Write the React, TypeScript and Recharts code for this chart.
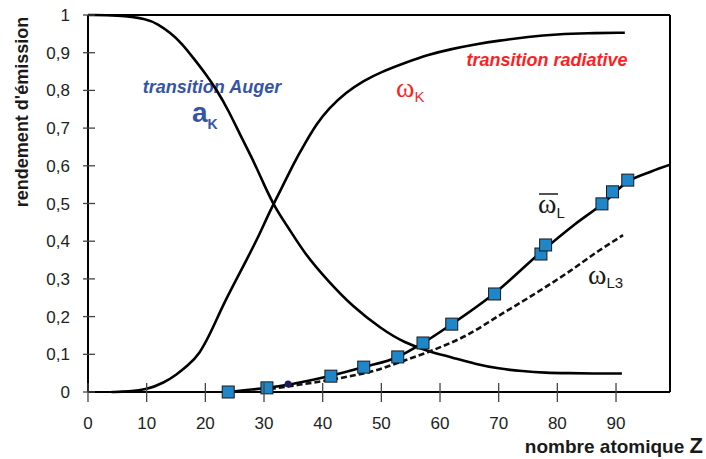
import React from 'react'
import { ComposedChart, Line, Scatter, XAxis, YAxis, ReferenceLine } from 'recharts'

// rendement Auger a_K
const AUGER_Z = [0, 5, 10, 12, 14, 16, 18, 20, 22, 24, 26, 28, 30, 32, 34, 37, 41, 45, 50, 54, 58, 62, 66, 70, 74, 78, 82, 86, 91]
const AUGER_V = [1, 1, 0.99, 0.975, 0.953, 0.925, 0.885, 0.845, 0.8, 0.745, 0.68, 0.62, 0.55, 0.485, 0.44, 0.365, 0.293, 0.228, 0.167, 0.13, 0.108, 0.092, 0.074, 0.062, 0.055, 0.051, 0.05, 0.049, 0.049]

// rendement de fluorescence omega_K
const OMEGA_K_Z = [4, 7, 10, 13, 15, 17, 19, 21, 23, 25, 27, 29, 31, 33, 35, 37, 39, 41, 44, 47, 50, 54, 58, 62, 66, 70, 75, 80, 85, 91.5]
const OMEGA_K_V = [0, 0.001, 0.006, 0.025, 0.045, 0.07, 0.1, 0.16, 0.23, 0.29, 0.35, 0.41, 0.48, 0.54, 0.605, 0.66, 0.712, 0.752, 0.795, 0.826, 0.849, 0.873, 0.895, 0.91, 0.922, 0.932, 0.942, 0.949, 0.952, 0.953]

// omega_L moyen (courbe)
const OMEGA_L_Z = [23.9, 27, 30.5, 35, 41.4, 47, 52.8, 57.1, 62, 69.3, 77.5, 83, 87.6, 92, 96, 99.2]
const OMEGA_L_V = [0, 0.005, 0.011, 0.022, 0.043, 0.066, 0.093, 0.13, 0.18, 0.262, 0.375, 0.445, 0.498, 0.558, 0.585, 0.603]

// omega_L mesures (carres)
const MES_Z = [23.9, 30.5, 41.4, 47.0, 52.8, 57.1, 62.0, 69.3, 77.2, 78.0, 87.6, 89.4, 92.0]
const MES_V = [0, 0.011, 0.042, 0.066, 0.093, 0.13, 0.18, 0.26, 0.366, 0.39, 0.499, 0.531, 0.562]

// omega_L3 (pointilles)
const OMEGA_L3_Z = [31, 35, 41.2, 45, 49, 53.1, 58.8, 64.6, 70.2, 75.8, 81.6, 87.2, 91.2]
const OMEGA_L3_V = [0.008, 0.017, 0.032, 0.043, 0.057, 0.079, 0.111, 0.151, 0.204, 0.257, 0.315, 0.376, 0.416]

const DOT_Z = [34.1]
const DOT_V = [0.021]

const X_TICKS = [0, 10, 20, 30, 40, 50, 60, 70, 80, 90]
const Y_TICKS = [0, 0.1, 0.2, 0.3, 0.4, 0.5, 0.6, 0.7, 0.8, 0.9, 1]

const zip = (zs: number[], vs: number[]) => zs.map((z, i) => ({ z, v: vs[i] }))

const FONT = '"Liberation Sans", Arial, sans-serif'
const SERIF = '"Liberation Serif", "Times New Roman", serif'
const TICK_SIZE = 10
const TICK_MARGIN = 2

function XTick({ x, y, payload }: any) {
  const ay = y - TICK_SIZE - TICK_MARGIN
  return (
    <g>
      <line x1={x} x2={x} y1={ay - 9} y2={ay + 10} stroke="#444" strokeWidth={1.3} />
      <text x={x} y={ay + 37} textAnchor="middle" fontSize={17} fill="#222" fontFamily={FONT}>
        {payload.value}
      </text>
    </g>
  )
}

function YTick({ x, y, payload }: any) {
  const ax = x + TICK_SIZE + TICK_MARGIN
  const label = payload.value === 0 || payload.value === 1 ? String(payload.value) : payload.value.toFixed(1).replace('.', ',')
  return (
    <g>
      <line x1={ax - 5} x2={ax + 7} y1={y} y2={y} stroke="#444" strokeWidth={1.3} />
      <text x={ax - 18} y={y + 6} textAnchor="end" fontSize={17} fill="#222" fontFamily={FONT}>
        {label}
      </text>
    </g>
  )
}

const Square = (props: any) => {
  const { cx, cy } = props
  return <rect x={cx - 6} y={cy - 6} width={12} height={12} fill="#1f86c9" stroke="#1a1a1a" strokeWidth={1} />
}

const Dot = (props: any) => <circle cx={props.cx} cy={props.cy} r={3.5} fill="#1c1c5e" />

export default function App() {
  return (
    <div style={{ position: 'absolute', left: 0, top: 0, background: '#fff' }}>
      <ComposedChart width={706} height={459} margin={{ top: 15, right: 36, left: 28, bottom: 37 }}>
        <XAxis
          type="number"
          dataKey="z"
          domain={[0, 99.2]}
          ticks={X_TICKS}
          allowDataOverflow
          height={30}
          tickSize={TICK_SIZE}
          tickMargin={TICK_MARGIN}
          tickLine={false}
          tick={<XTick />}
          axisLine={{ stroke: '#000', strokeWidth: 2 }}
        />
        <YAxis
          type="number"
          domain={[0, 1]}
          ticks={Y_TICKS}
          width={60}
          tickSize={TICK_SIZE}
          tickMargin={TICK_MARGIN}
          tickLine={false}
          tick={<YTick />}
          axisLine={{ stroke: '#000', strokeWidth: 2 }}
        />
        <ReferenceLine y={1} stroke="#000" strokeWidth={2} />
        <ReferenceLine x={99.2} stroke="#000" strokeWidth={2} />
        <Line data={zip(AUGER_Z, AUGER_V)} dataKey="v" type="basis" stroke="#000" strokeWidth={2.6} dot={false} isAnimationActive={false} />
        <Line data={zip(OMEGA_K_Z, OMEGA_K_V)} dataKey="v" type="basis" stroke="#000" strokeWidth={2.6} dot={false} isAnimationActive={false} />
        <Line data={zip(OMEGA_L3_Z, OMEGA_L3_V)} dataKey="v" type="monotone" stroke="#111" strokeWidth={2.6} strokeDasharray="6 3" dot={false} isAnimationActive={false} />
        <Line data={zip(OMEGA_L_Z, OMEGA_L_V)} dataKey="v" type="monotone" stroke="#000" strokeWidth={2.6} dot={false} isAnimationActive={false} />
        <Scatter data={zip(DOT_Z, DOT_V)} dataKey="v" shape={Dot} isAnimationActive={false} />
        <Scatter data={zip(MES_Z, MES_V)} dataKey="v" shape={Square} isAnimationActive={false} />

        <text x={28} y={112} transform="rotate(-90 28 112)" textAnchor="middle" fontSize={18} fontWeight="bold" fill="#1a1a1a" fontFamily={FONT}>
          rendement d'émission
        </text>
        <text x={703} y={453} textAnchor="end" fontWeight="bold" fill="#1a1a1a" fontFamily={FONT} fontSize={19}>
          nombre atomique <tspan fontSize={22}>Z</tspan>
        </text>

        <text x={212} y={93} textAnchor="middle" fontSize={18} fontWeight="bold" fontStyle="italic" fill="#3554a6" fontFamily={FONT}>
          transition Auger
        </text>
        <text x={192} y={122} fontSize={28} fontWeight="bold" fill="#3554a6" fontFamily={FONT}>
          a<tspan fontSize={14} dy={7}>K</tspan>
        </text>

        <text x={547} y={66} textAnchor="middle" fontSize={18} fontWeight="bold" fontStyle="italic" fill="#ff1f1f" fontFamily={FONT}>
          transition radiative
        </text>
        <text x={396} y={97} fontSize={28} fill="#ff1f1f" fontFamily={SERIF}>
          ω<tspan fontSize={15} dy={5} fontFamily={FONT}>K</tspan>
        </text>

        <line x1={539} x2={558} y1={194} y2={194} stroke="#1a1a1a" strokeWidth={1.5} />
        <text x={538} y={213} fontSize={28} fill="#1a1a1a" fontFamily={SERIF}>
          ω<tspan fontSize={15} dy={5} fontFamily={FONT}>L</tspan>
        </text>
        <text x={588} y={284} fontSize={28} fill="#1a1a1a" fontFamily={SERIF}>
          ω<tspan fontSize={15} dy={4} fontFamily={FONT}>L3</tspan>
        </text>
      </ComposedChart>
    </div>
  )
}
